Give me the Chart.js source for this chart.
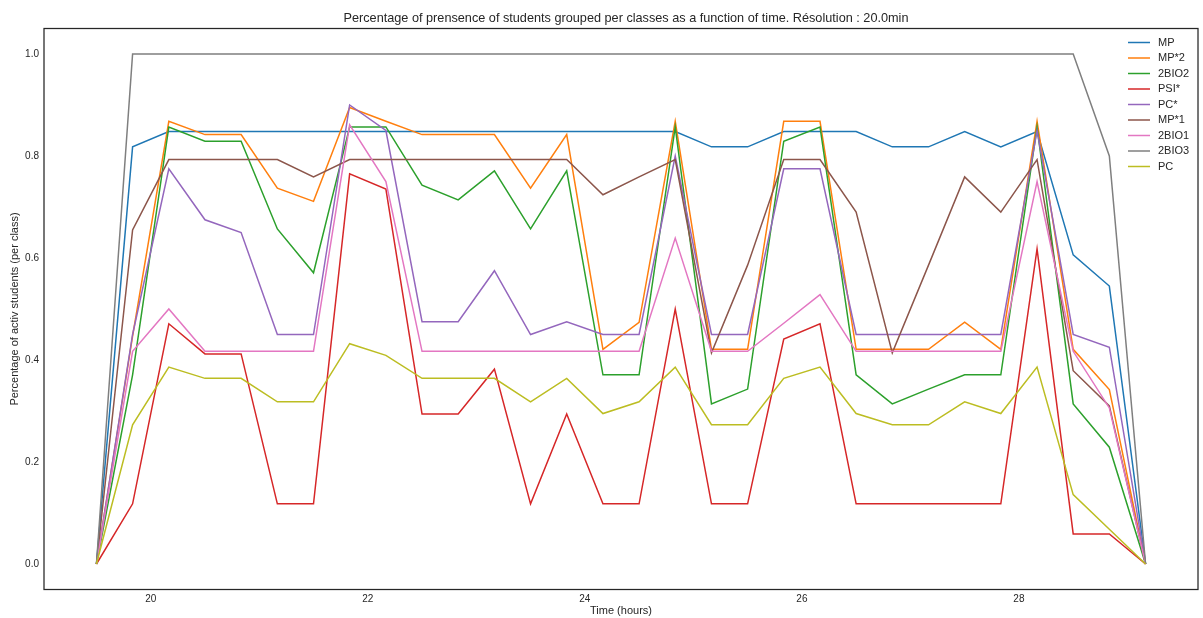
<!DOCTYPE html>
<html>
<head>
<meta charset="utf-8">
<script src="https://cdn.jsdelivr.net/npm/chart.js@4.4.0/dist/chart.umd.min.js"></script>
<style>
    html, body { margin: 0; padding: 0; background: #fff; }
    #wrap { width: 1203px; height: 618px; }
</style>
</head>
<body>
<div id="wrap"><canvas id="chart" width="1203" height="618"></canvas></div>
<script>
// Time axis (hours), 20 min resolution
const times = [19.5, 19.833, 20.167, 20.5, 20.833, 21.167, 21.5, 21.833, 22.167, 22.5,
    22.833, 23.167, 23.5, 23.833, 24.167, 24.5, 24.833, 25.167, 25.5, 25.833,
    26.167, 26.5, 26.833, 27.167, 27.5, 27.833, 28.167, 28.5, 28.833, 29.167];

const classNames = ['MP', 'MP*2', '2BIO2', 'PSI*', 'PC*', 'MP*1', '2BIO1', '2BIO3', 'PC'];

const mp = [0, 0.818, 0.848, 0.848, 0.848, 0.848, 0.848, 0.848, 0.848, 0.848,
    0.848, 0.848, 0.848, 0.848, 0.848, 0.848, 0.848, 0.818, 0.818, 0.848,
    0.848, 0.848, 0.818, 0.818, 0.848, 0.818, 0.848, 0.606, 0.545, 0];
const mp2 = [0, 0.447, 0.868, 0.842, 0.842, 0.737, 0.711, 0.895, 0.868, 0.842,
    0.842, 0.842, 0.737, 0.842, 0.421, 0.474, 0.868, 0.421, 0.421, 0.868,
    0.868, 0.421, 0.421, 0.421, 0.474, 0.421, 0.868, 0.421, 0.342, 0];
const bio2 = [0, 0.371, 0.857, 0.829, 0.829, 0.657, 0.571, 0.857, 0.857, 0.743,
    0.714, 0.771, 0.657, 0.771, 0.371, 0.371, 0.857, 0.314, 0.343, 0.829,
    0.857, 0.371, 0.314, 0.343, 0.371, 0.371, 0.857, 0.314, 0.229, 0];
const psi = [0, 0.118, 0.471, 0.412, 0.412, 0.118, 0.118, 0.765, 0.735, 0.294,
    0.294, 0.382, 0.118, 0.294, 0.118, 0.118, 0.5, 0.118, 0.118, 0.441,
    0.471, 0.118, 0.118, 0.118, 0.118, 0.118, 0.618, 0.059, 0.059, 0];
const pcStar = [0, 0.45, 0.775, 0.675, 0.65, 0.45, 0.45, 0.9, 0.85, 0.475,
    0.475, 0.575, 0.45, 0.475, 0.45, 0.45, 0.8, 0.45, 0.45, 0.775,
    0.775, 0.45, 0.45, 0.45, 0.45, 0.45, 0.85, 0.45, 0.425, 0];
const mp1 = [0, 0.655, 0.793, 0.793, 0.793, 0.793, 0.759, 0.793, 0.793, 0.793,
    0.793, 0.793, 0.793, 0.793, 0.724, 0.759, 0.793, 0.414, 0.586, 0.793,
    0.793, 0.69, 0.414, 0.586, 0.759, 0.69, 0.793, 0.379, 0.31, 0];
const bio1 = [0, 0.417, 0.5, 0.417, 0.417, 0.417, 0.417, 0.861, 0.75, 0.417,
    0.417, 0.417, 0.417, 0.417, 0.417, 0.417, 0.639, 0.417, 0.417, 0.472,
    0.528, 0.417, 0.417, 0.417, 0.417, 0.417, 0.75, 0.417, 0.306, 0];
const bio3 = [0, 1, 1, 1, 1, 1, 1, 1, 1, 1,
    1, 1, 1, 1, 1, 1, 1, 1, 1, 1,
    1, 1, 1, 1, 1, 1, 1, 1, 0.8, 0];
const pc = [0, 0.273, 0.386, 0.364, 0.364, 0.318, 0.318, 0.432, 0.409, 0.364,
    0.364, 0.364, 0.318, 0.364, 0.295, 0.318, 0.386, 0.273, 0.273, 0.364,
    0.386, 0.295, 0.273, 0.273, 0.318, 0.295, 0.386, 0.136, 0.068, 0];

const xTicks = [20, 22, 24, 26, 28];
const yTicks = [0, 0.2, 0.4, 0.6, 0.8, 1.0];

const seriesList = [mp, mp2, bio2, psi, pcStar, mp1, bio1, bio3, pc];
const colors = ['#1f77b4', '#ff7f0e', '#2ca02c', '#d62728', '#9467bd',
    '#8c564b', '#e377c2', '#7f7f7f', '#bcbd22'];

const FONT = '"Liberation Sans", Arial, sans-serif';
const TEXT = '#262626';

// Build datasets (later series drawn on top, like matplotlib)
const datasets = seriesList.map((values, i) => ({
    label: classNames[i],
    data: values.map((v, j) => ({ x: times[j], y: v })),
    borderColor: colors[i],
    backgroundColor: colors[i],
    borderWidth: 1.5,
    pointRadius: 0,
    tension: 0,
    fill: false,
    order: seriesList.length - 1 - i,
}));

// Frame around the plot area + title + legend
const framePlugin = {
    id: 'frame',
    afterDraw(chart) {
        const ctx = chart.ctx;
        const a = chart.chartArea;
        ctx.save();
        ctx.strokeStyle = TEXT;
        ctx.lineWidth = 1.25;
        ctx.strokeRect(a.left, a.top, a.right - a.left, a.bottom - a.top);

        // title
        ctx.fillStyle = TEXT;
        ctx.font = '12.7px ' + FONT;
        ctx.textAlign = 'center';
        ctx.textBaseline = 'middle';
        ctx.fillText('Percentage of prensence of students grouped per classes as a function of time. Résolution : 20.0min',
            626, 18);

        // legend
        ctx.font = '11px ' + FONT;
        ctx.textAlign = 'left';
        chart.data.datasets.forEach((ds, i) => {
            const y = 42.5 + i * 15.5;
            ctx.strokeStyle = ds.borderColor;
            ctx.lineWidth = 1.5;
            ctx.beginPath();
            ctx.moveTo(1128, y);
            ctx.lineTo(1150, y);
            ctx.stroke();
            ctx.fillStyle = TEXT;
            ctx.fillText(ds.label, 1158, y);
        });
        ctx.restore();
    }
};

const ctx = document.getElementById('chart').getContext('2d');
new Chart(ctx, {
    type: 'line',
    data: { datasets: datasets },
    options: {
        responsive: false,
        animation: false,
        layout: { padding: { top: 28.5, right: 5, left: 0, bottom: 0 } },
        plugins: {
            legend: { display: false },
            title: { display: false },
            tooltip: { enabled: false },
        },
        scales: {
            x: {
                type: 'linear',
                min: 19.0167,
                max: 29.65,
                grid: { display: false, drawTicks: false },
                border: { display: false },
                afterBuildTicks: (s) => { s.ticks = xTicks.map(v => ({ value: v })); },
                afterFit: (s) => { s.height = 28.5; },
                ticks: {
                    color: TEXT,
                    padding: 4,
                    maxRotation: 0,
                    font: { family: FONT, size: 10 },
                    callback: (v) => String(v),
                },
                title: {
                    display: true,
                    text: 'Time (hours)',
                    color: TEXT,
                    padding: { top: 0, bottom: 0 },
                    font: { family: FONT, size: 11 },
                },
            },
            y: {
                min: -0.05,
                max: 1.05,
                grid: { display: false, drawTicks: false },
                border: { display: false },
                afterBuildTicks: (s) => { s.ticks = yTicks.map(v => ({ value: v })); },
                afterFit: (s) => { s.width = 44; },
                ticks: {
                    color: TEXT,
                    padding: 5,
                    font: { family: FONT, size: 10 },
                    callback: (v) => Number(v).toFixed(1),
                },
                title: {
                    display: true,
                    text: 'Percentage of activ students (per class)',
                    color: TEXT,
                    padding: { top: 8, bottom: 0 },
                    font: { family: FONT, size: 11 },
                },
            },
        },
    },
    plugins: [framePlugin],
});
</script>
</body>
</html>
